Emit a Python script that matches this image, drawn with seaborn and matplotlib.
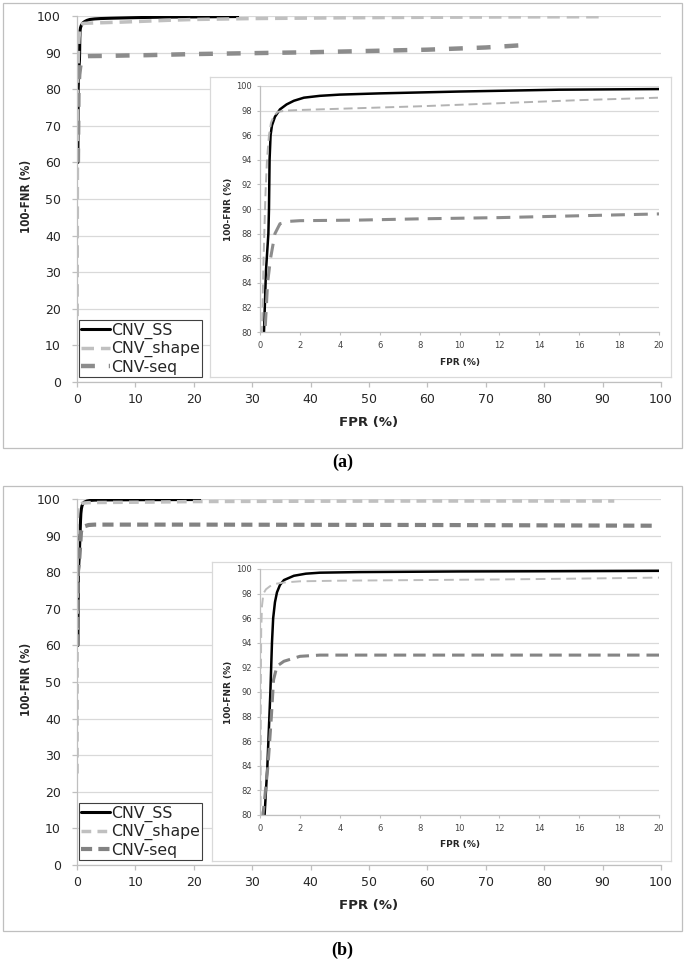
import matplotlib
matplotlib.use("Agg")
import matplotlib.pyplot as plt
import matplotlib.patches as mpatches
from matplotlib import font_manager
import seaborn as sns

# Values (FPR %, 100-FNR %)
series_names = ["CNV_SS", "CNV_shape", "CNV-seq"]

a_ss_x = [0.15, 0.2, 0.3, 0.42, 0.45, 0.48, 0.53, 0.6, 0.75, 1.0, 1.33, 1.7, 2.2, 3.0, 4.0, 6.0, 10.0, 15.0, 20.0, 27.5]
a_ss_y = [60, 80, 85, 88, 90, 94, 96, 96.8, 97.5, 98.1, 98.5, 98.8, 99.05, 99.2, 99.3, 99.4, 99.55, 99.7, 99.75, 99.85]
a_shape_x = [0.03, 0.06, 0.1, 0.18, 0.27, 0.35, 0.45, 0.55, 0.7, 0.9, 1.3, 2.0, 4.0, 8.0, 12.0, 16.0, 20.0, 30.0, 45.0, 60.0, 75.0, 90.0]
a_shape_y = [18, 50, 80, 86, 91, 94, 96, 97.0, 97.6, 97.9, 98.0, 98.05, 98.15, 98.35, 98.6, 98.85, 99.05, 99.3, 99.5, 99.65, 99.75, 99.8]
a_seq_x = [0.15, 0.25, 0.38, 0.53, 0.75, 1.0, 1.5, 2.0, 5.0, 8.0, 12.0, 16.0, 20.0, 30.0, 40.0, 50.0, 60.0, 70.0, 76.0]
a_seq_y = [60, 80, 84, 86, 88, 88.8, 89.0, 89.05, 89.1, 89.2, 89.3, 89.45, 89.6, 89.85, 90.1, 90.45, 90.8, 91.4, 92.0]

b_ss_x = [0.15, 0.23, 0.37, 0.52, 0.6, 0.66, 0.75, 0.85, 1.0, 1.2, 1.7, 2.3, 3.0, 5.0, 10.0, 15.0, 20.0, 21.0]
b_ss_y = [60, 80, 84, 90, 94, 96, 97.3, 98.1, 98.7, 99.1, 99.45, 99.62, 99.7, 99.75, 99.8, 99.82, 99.85, 99.85]
b_shape_x = [0.02, 0.03, 0.04, 0.06, 0.1, 0.17, 0.3, 0.5, 0.8, 1.2, 2.0, 4.0, 8.0, 12.0, 16.0, 20.0, 40.0, 60.0, 80.0, 92.0]
b_shape_y = [25, 80, 90, 95, 97, 98, 98.35, 98.6, 98.8, 98.9, 99.0, 99.05, 99.1, 99.15, 99.22, 99.3, 99.4, 99.45, 99.45, 99.45]
b_seq_x = [0.1, 0.15, 0.4, 0.57, 0.68, 0.85, 1.2, 2.0, 3.0, 10.0, 20.0, 40.0, 60.0, 80.0, 99.0]
b_seq_y = [60, 80, 84, 88, 91, 92.1, 92.5, 92.9, 93.0, 93.0, 93.0, 92.95, 92.9, 92.8, 92.7]

main_ticks = list(range(0, 101, 10))
inset_xticks = list(range(0, 21, 2))
inset_yticks = list(range(80, 101, 2))

sns.set_style("white")
plt.rcParams["font.family"] = ["DejaVu Sans"]
plt.rcParams["lines.scale_dashes"] = False

# narrow bold face for the big y label, if one is installed
ylab_font = None
for f in font_manager.fontManager.ttflist:
    if f.name == "Liberation Sans Narrow" and f.weight in (700, "bold"):
        ylab_font = font_manager.FontProperties(fname=f.fname, size=10.5)
        break
if ylab_font is None:
    for f in font_manager.fontManager.ttflist:
        fn = f.fname.lower()
        if "dejavusanscondensed-bold.ttf" in fn:
            ylab_font = font_manager.FontProperties(fname=f.fname, size=8.3)
            break
if ylab_font is None:
    ylab_font = font_manager.FontProperties(family="DejaVu Sans", weight="bold", size=7.6)

W, H = 685, 973
fig = plt.figure(figsize=(W / 100, H / 100), dpi=100)


def fx(px):
    return px / W


def fy(py):
    return 1 - py / H


def rect(x0, y0, x1, y1):
    # pixel box (top-left origin) -> figure fraction rect
    return [fx(x0), fy(y1), fx(x1) - fx(x0), fy(y0) - fy(y1)]


panels = [
    dict(off=0, caption="(a)",
         data=[(a_ss_x, a_ss_y), (a_shape_x, a_shape_y), (a_seq_x, a_seq_y)],
         main_style=[("black", 2.2, "-"), ("#c0c0c0", 2.5, (0, (9, 5))), ("#8c8c8c", 3.2, (0, (10, 10)))],
         inset_style=[("black", 1.8, "-"), ("#b3b3b3", 1.4, (0, (6.5, 3.5))), ("#8c8c8c", 2.2, (0, (10, 6.5)))],
         inset_frame=(210, 77, 671, 377)),
    dict(off=483, caption="(b)",
         data=[(b_ss_x, b_ss_y), (b_shape_x, b_shape_y), (b_seq_x, b_seq_y)],
         main_style=[("black", 2.2, "-"), ("#c0c0c0", 2.5, (0, (7, 4.5))), ("#828282", 3.0, (0, (8, 4.5)))],
         inset_style=[("black", 1.8, "-"), ("#bdbdbd", 1.4, (0, (7, 4))), ("#858585", 2.2, (0, (9, 5)))],
         inset_frame=(212, 562, 671, 861)),
]

grid_c = "#d9d9d9"
axis_c = "#bfbfbf"
text_c = "#262626"

for p in panels:
    o = p["off"]

    # outer panel border
    box = mpatches.Rectangle((fx(3), fy(o + 448)), fx(682) - fx(3), fy(o + 3) - fy(o + 448),
                             transform=fig.transFigure, fill=False, ec=axis_c, lw=0.9)
    fig.patches.append(box)

    # main axes
    ax = fig.add_axes(rect(77, o + 16, 661, o + 382))
    for (xs, ys), (c, lw, ls), name in zip(p["data"], p["main_style"], series_names):
        sns.lineplot(x=xs, y=ys, ax=ax, color=c, linewidth=lw, linestyle=ls,
                     sort=False, estimator=None, label=name, dash_capstyle="butt")
    ax.set_xlim(0, 100)
    ax.set_ylim(0, 100)
    ax.set_xticks(main_ticks)
    ax.set_yticks(main_ticks)
    ax.yaxis.grid(True, color=grid_c, lw=0.9)
    ax.xaxis.grid(False)
    ax.set_axisbelow(True)
    for s in ["top", "right"]:
        ax.spines[s].set_visible(False)
    for s in ["left", "bottom"]:
        ax.spines[s].set_color(axis_c)
        ax.spines[s].set_linewidth(0.9)
    ax.tick_params(axis="both", bottom=True, left=True, direction="out", length=3.6,
                   width=0.9, color=axis_c, labelsize=9, labelcolor=text_c)
    ax.tick_params(axis="y", pad=8)
    ax.tick_params(axis="x", pad=4.3)
    ax.set_xlabel("")
    ax.set_ylabel("")
    leg = ax.legend(loc="lower left", bbox_to_anchor=(0.0034, 0.0137), borderaxespad=0,
                    fontsize=11.3, frameon=True, fancybox=False, framealpha=1,
                    edgecolor="#404040", handlelength=1.8, handletextpad=0.1,
                    borderpad=0.15, labelspacing=0.15)
    leg.get_frame().set_linewidth(0.8)
    for t in leg.get_texts():
        t.set_color(text_c)

    fig.text(fx(27), fy(o + 196), "100-FNR (%)", rotation=90, ha="center", va="center",
             fontproperties=ylab_font, color=text_c)
    fig.text(fx(369), fy(o + 423), "FPR (%)", ha="center", va="center",
             fontsize=9.5, fontweight="bold", color=text_c)

    # inset frame
    x0, y0, x1, y1 = p["inset_frame"]
    frame = fig.add_axes(rect(x0, y0, x1, y1))
    frame.set_facecolor("white")
    frame.set_xticks([])
    frame.set_yticks([])
    for s in frame.spines.values():
        s.set_color(grid_c)
        s.set_linewidth(0.9)

    # inset axes
    ins = fig.add_axes(rect(260, o + 86, 659, o + 332))
    ins.set_facecolor("none")
    for (xs, ys), (c, lw, ls) in zip(p["data"], p["inset_style"]):
        sns.lineplot(x=xs, y=ys, ax=ins, color=c, linewidth=lw, linestyle=ls,
                     sort=False, estimator=None, dash_capstyle="butt")
    ins.set_xlim(0, 20)
    ins.set_ylim(80, 100)
    ins.set_xticks(inset_xticks)
    ins.set_yticks(inset_yticks)
    ins.yaxis.grid(True, color=grid_c, lw=0.9)
    ins.xaxis.grid(False)
    ins.set_axisbelow(True)
    for s in ["top", "right"]:
        ins.spines[s].set_visible(False)
    for s in ["left", "bottom"]:
        ins.spines[s].set_color(axis_c)
        ins.spines[s].set_linewidth(0.9)
    ins.tick_params(axis="both", bottom=True, left=True, direction="out", length=2,
                    width=0.8, color=axis_c, labelsize=6, labelcolor="#404040")
    ins.tick_params(axis="y", pad=3.8)
    ins.tick_params(axis="x", pad=4.5)
    ins.set_xlabel("")
    ins.set_ylabel("")
    if ins.get_legend() is not None:
        ins.get_legend().remove()

    fig.text(fx(228), fy(o + 209), "100-FNR (%)", rotation=90, ha="center", va="center",
             fontsize=6.5, fontweight="bold", color=text_c)
    fig.text(fx(460), fy(o + 362), "FPR (%)", ha="center", va="center",
             fontsize=6.5, fontweight="bold", color=text_c)

fig.text(0.5, fy(462), "(a)", ha="center", va="center", family="Liberation Serif",
         fontsize=13, fontweight="bold", color="black")
fig.text(0.5, fy(950), "(b)", ha="center", va="center", family="Liberation Serif",
         fontsize=13, fontweight="bold", color="black")

fig.savefig("out.png", dpi=100)
